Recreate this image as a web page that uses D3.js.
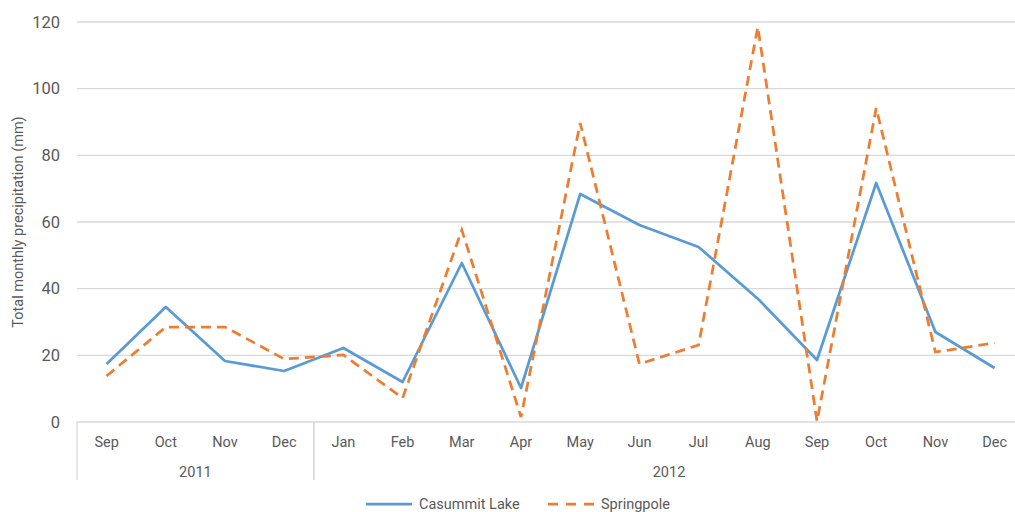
<!DOCTYPE html>
<meta charset="utf-8">
<script src="https://d3js.org/d3.v7.min.js"></script>
<style>
  body { margin: 0; background: #fff; }
  text { font-family: Roboto, "Noto Sans", sans-serif; fill: #595959; }
</style>
<div id="chart"></div>
<script>

// data
const months = ["Sep", "Oct", "Nov", "Dec", "Jan", "Feb", "Mar", "Apr", "May", "Jun", "Jul", "Aug", "Sep", "Oct", "Nov", "Dec"];
const years = ["2011", "2011", "2011", "2011", "2012", "2012", "2012", "2012", "2012", "2012", "2012", "2012", "2012", "2012", "2012", "2012"];
const casummit = [17.4, 34.5, 18.3, 15.3, 22.2, 12.0, 47.7, 10.2, 68.4, 59.1, 52.5, 37.0, 18.6, 71.7, 27.0, 16.2];
const springpole = [13.8, 28.5, 28.5, 18.9, 20.1, 7.2, 57.6, 1.5, 89.7, 17.4, 23.1, 118.5, 0.2, 94.2, 21.0, 23.7];
const yTicks = [0, 20, 40, 60, 80, 100, 120];

const W = 1015, H = 512;
const margin = {top: 22, left: 77, bottom: 90};
const plotRight = 77 + 16 * 59.2;
const plotBottom = H - margin.bottom;

const svg = d3.select("#chart").append("svg")
    .attr("width", W)
    .attr("height", H);

const keys = months.map((m, i) => years[i] + "-" + m);

const x = d3.scaleBand()
    .domain(keys)
    .range([margin.left, plotRight])
    .padding(0);

const y = d3.scaleLinear()
    .domain([0, 120])
    .range([plotBottom, margin.top]);

// gridlines
svg.append("g")
  .selectAll("line")
  .data(yTicks)
  .join("line")
    .attr("x1", margin.left)
    .attr("x2", plotRight)
    .attr("y1", d => y(d))
    .attr("y2", d => y(d))
    .attr("stroke", "#d9d9d9")
    .attr("stroke-width", 1.3);

// y labels
const yAxis = svg.append("g")
    .attr("transform", `translate(${margin.left - 17},0)`)
    .call(d3.axisLeft(y).tickValues(yTicks).tickSize(0).tickPadding(0));
yAxis.select(".domain").remove();
yAxis.selectAll("text")
    .style("font-size", "16.5px")
    .attr("fill", "#595959");

// y title
svg.append("text")
    .attr("transform", `translate(23,${(margin.top + plotBottom) / 2}) rotate(-90)`)
    .attr("text-anchor", "middle")
    .style("font-size", "14.5px")
    .text("Total monthly precipitation (mm)");

// month labels
const xAxis = svg.append("g")
    .attr("transform", `translate(0,${plotBottom})`)
    .call(d3.axisBottom(x).tickSize(0).tickPadding(15).tickFormat((d, i) => months[i]));
xAxis.select(".domain").remove();
xAxis.selectAll("text")
    .style("font-size", "14.5px")
    .attr("fill", "#595959");

// year groups
const groups = d3.groups(keys, k => k.slice(0, 4));
groups.forEach(([yr, ks]) => {
  const x0 = x(ks[0]);
  const x1 = x(ks[ks.length - 1]) + x.bandwidth();
  svg.append("line")
      .attr("x1", x0).attr("x2", x0)
      .attr("y1", plotBottom).attr("y2", plotBottom + 58)
      .attr("stroke", "#d9d9d9").attr("stroke-width", 1.3);
  svg.append("line")
      .attr("x1", x1).attr("x2", x1)
      .attr("y1", plotBottom).attr("y2", plotBottom + 58)
      .attr("stroke", "#d9d9d9").attr("stroke-width", 1.3);
  svg.append("text")
      .attr("x", (x0 + x1) / 2)
      .attr("y", plotBottom + 55)
      .attr("text-anchor", "middle")
      .style("font-size", "14.5px")
      .text(yr);
});

// lines
const line = d3.line()
    .x((d, i) => x(keys[i]) + x.bandwidth() / 2)
    .y(d => y(d));

svg.append("path")
    .datum(casummit)
    .attr("fill", "none")
    .attr("stroke", "#5b9bd5")
    .attr("stroke-width", 2.75)
    .attr("stroke-linejoin", "round")
    .attr("d", line);

svg.append("path")
    .datum(springpole)
    .attr("fill", "none")
    .attr("stroke", "#ed7d31")
    .attr("stroke-width", 2.75)
    .attr("stroke-dasharray", "10,6")
    .attr("d", line);

// legend
const legend = [
  {name: "Casummit Lake", color: "#5b9bd5", dash: null, x: 366},
  {name: "Springpole", color: "#ed7d31", dash: "10,8", x: 548}
];
legend.forEach(l => {
  svg.append("line")
      .attr("x1", l.x).attr("x2", l.x + 46)
      .attr("y1", 504).attr("y2", 504)
      .attr("stroke", l.color)
      .attr("stroke-width", 2.75)
      .attr("stroke-dasharray", l.dash);
  svg.append("text")
      .attr("x", l.x + 53)
      .attr("y", 504)
      .attr("dy", "0.35em")
      .style("font-size", "14.5px")
      .text(l.name);
});
</script>
